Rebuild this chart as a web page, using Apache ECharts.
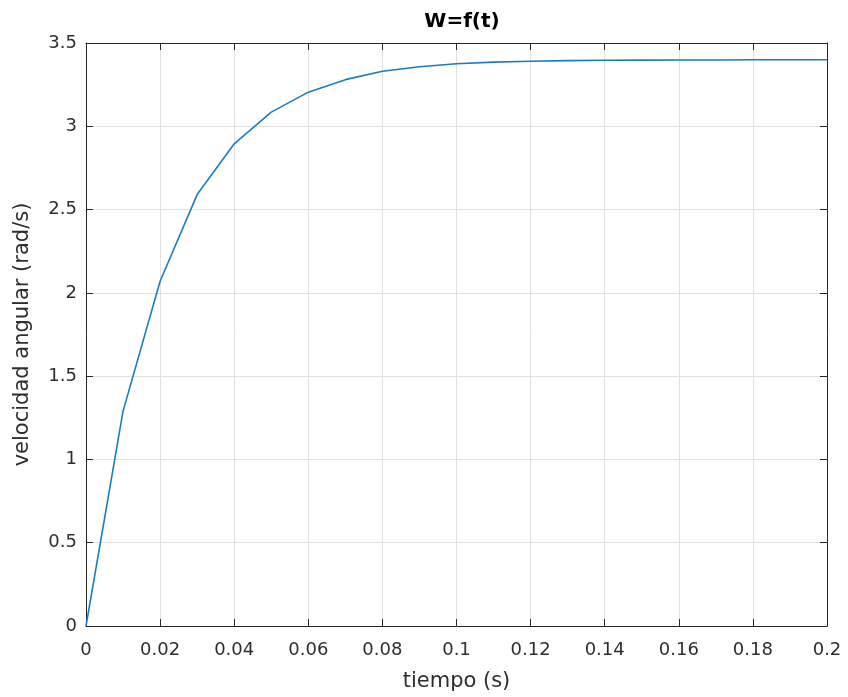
<!DOCTYPE html>
<html>
<head>
<meta charset="utf-8">
<script src="https://cdn.jsdelivr.net/npm/echarts@6/dist/echarts.min.js"></script>
<style>html,body{margin:0;padding:0;background:#fff}#c{width:848px;height:697px}</style>
</head>
<body>
<div id="c"></div>
<script>
const tiempo = [0,0.01,0.02,0.03,0.04,0.05,0.06,0.07,0.08,0.09,0.10,0.11,0.12,0.13,0.14,0.15,0.16,0.17,0.18,0.19,0.20];
const velocidad = [0,1.29,2.07,2.59,2.895,3.085,3.205,3.28,3.33,3.357,3.375,3.385,3.39,3.394,3.396,3.397,3.398,3.398,3.399,3.399,3.399];
const titleText = 'W=f(t)';
const xName = 'tiempo (s)';
const yName = 'velocidad angular (rad/s)';

const data = tiempo.map((t,i)=>[t, velocidad[i]]);
const font = '"DejaVu Sans", sans-serif';
const axisCol = '#262626';
const textCol = '#2e2e2e';
const chart = echarts.init(document.getElementById('c'));
const fmt = v => String(parseFloat(v.toFixed(3)));
chart.setOption({
  animation:false,
  backgroundColor:'#fff',
  title:{text:titleText,left:457,top:7,textAlign:'center',textStyle:{fontFamily:font,fontSize:20,fontWeight:'bold',color:'#000'}},
  grid:{left:86,right:21,top:43,bottom:71},
  xAxis:[{
    type:'value',min:0,max:0.2,interval:0.02,position:'bottom',
    name:xName,nameLocation:'middle',nameGap:45,
    nameTextStyle:{fontFamily:font,fontSize:21,color:textCol},
    axisLine:{show:true,onZero:false,lineStyle:{color:axisCol,width:1}},
    axisTick:{show:true,inside:true,length:7,lineStyle:{color:axisCol}},
    axisLabel:{fontFamily:font,fontSize:18,color:textCol,margin:15,formatter:fmt},
    splitLine:{show:true,lineStyle:{color:'#e0e0e0',width:1}}
  },{
    type:'value',min:0,max:0.2,interval:0.02,position:'top',
    axisLine:{show:true,onZero:false,lineStyle:{color:axisCol,width:1}},
    axisTick:{show:true,inside:true,length:7,lineStyle:{color:axisCol}},
    axisLabel:{show:false},splitLine:{show:false}
  }],
  yAxis:[{
    type:'value',min:0,max:3.5,interval:0.5,position:'left',
    name:yName,nameLocation:'middle',nameGap:53,
    nameTextStyle:{fontFamily:font,fontSize:21,color:textCol},
    axisLine:{show:true,onZero:false,lineStyle:{color:axisCol,width:1}},
    axisTick:{show:true,inside:true,length:7,lineStyle:{color:axisCol}},
    axisLabel:{fontFamily:font,fontSize:18,color:textCol,margin:9,formatter:fmt},
    splitLine:{show:true,lineStyle:{color:'#e0e0e0',width:1}}
  },{
    type:'value',min:0,max:3.5,interval:0.5,position:'right',
    axisLine:{show:true,onZero:false,lineStyle:{color:axisCol,width:1}},
    axisTick:{show:true,inside:true,length:7,lineStyle:{color:axisCol}},
    axisLabel:{show:false},splitLine:{show:false}
  }],
  series:[{
    type:'line',data:data,xAxisIndex:0,yAxisIndex:0,
    showSymbol:false,smooth:false,
    lineStyle:{color:'#1a7cc4',width:1.6}
  }]
});
</script>
</body>
</html>
